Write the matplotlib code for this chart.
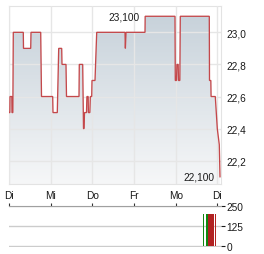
import matplotlib
matplotlib.use("Agg")
import matplotlib.pyplot as plt
import numpy as np
from matplotlib.ticker import FuncFormatter
from matplotlib.colors import LinearSegmentedColormap

plt.rcParams['font.family'] = ['Liberation Sans', 'DejaVu Sans']

# ---- data (x in trading days since first "Di") ----
day_labels = ["Di", "Mi", "Do", "Fr", "Mo", "Di"]
price_t = [0.000, 0.020, 0.024, 0.068, 0.072, 0.092, 0.103, 0.343, 0.348, 0.521,
           0.528, 0.761, 0.780, 1.049, 1.056, 1.159, 1.193, 1.265, 1.272, 1.368,
           1.380, 1.680, 1.687, 1.769, 1.788, 1.800, 1.812, 1.860, 1.870, 1.900,
           1.905, 1.940, 1.952, 1.985, 1.992, 2.064, 2.105, 2.784, 2.793, 2.808,
           3.264, 3.268, 3.984, 3.991, 4.020, 4.030, 4.060, 4.068, 4.100, 4.111,
           4.807, 4.812, 4.844, 4.850, 4.951, 4.999, 5.047, 5.064]
price_v = [22.5, 22.5, 22.6, 22.6, 22.5, 22.5, 23.0, 23.0, 22.9, 22.9,
           23.0, 23.0, 22.6, 22.6, 22.5, 22.5, 22.9, 22.9, 22.8, 22.8,
           22.6, 22.6, 22.8, 22.8, 22.4, 22.4, 22.5, 22.5, 22.6, 22.6,
           22.5, 22.5, 22.6, 22.6, 22.7, 22.7, 23.0, 23.0, 22.9, 23.0,
           23.0, 23.1, 23.1, 22.7, 22.7, 22.8, 22.8, 22.7, 22.7, 23.1,
           23.1, 22.7, 22.7, 22.6, 22.6, 22.4, 22.3, 22.1]
price_ticks = [22.2, 22.4, 22.6, 22.8, 23.0]

vol_t = [4.673, 4.755, 4.850, 4.950]
vol_v = [200, 200, 200, 200]
vol_up = [True, True, False, False]
vol_ticks = [0, 125, 250]

# ---- figure ----
W, H = 264, 255
fig = plt.figure(figsize=(W / 100, H / 100), dpi=100)
fs = 7.3
grid_c = "#e6e6e6"
txt_c = "#1a1a1a"
xmax = 5.088

ax = fig.add_axes([9 / W, 1 - 185 / H, 212 / W, 178 / H])
ax.set_xlim(0, xmax)
ax.set_ylim(22.055, 23.164)

t = np.array(price_t)
v = np.array(price_v)

# gradient fill under the line
cmap = LinearSegmentedColormap.from_list("g", ["#f6f7f8", "#c5d0d9"])
grad = np.linspace(0, 1, 256).reshape(-1, 1)
img = ax.imshow(grad, extent=[0, xmax, 22.055, 23.164], origin="lower",
                aspect="auto", cmap=cmap, zorder=1)
poly = ax.fill_between(t, v, 22.055, color="none", lw=0)
img.set_clip_path(poly.get_paths()[0], transform=ax.transData)

ax.set_xticks(range(len(day_labels)))
ax.set_xticklabels(day_labels)
ax.set_yticks(price_ticks)
ax.yaxis.set_major_formatter(FuncFormatter(lambda y, p: f"{y:.1f}".replace(".", ",")))
ax.yaxis.tick_right()
ax.tick_params(axis="both", length=0, labelsize=fs, colors=txt_c)
ax.tick_params(axis="y", pad=4)
ax.tick_params(axis="x", pad=4)
ax.grid(True, color=grid_c, lw=1.0, zorder=2)
ax.set_axisbelow(False)
for s in ax.spines.values():
    s.set_color("#e3e3e3")
    s.set_linewidth(0.8)

ax.plot(t, v, color="#c4484b", lw=0.95, zorder=3, solid_joinstyle="miter")

imax = int(np.argmax(v))
imin = int(np.argmin(v))
fmt3 = lambda y: f"{y:.3f}".replace(".", ",")
ax.annotate(fmt3(v[imax]), (t[imax], v[imax]), xytext=(-4, 0),
            textcoords="offset points", ha="right", va="center",
            fontsize=fs, color=txt_c, zorder=4)
ax.annotate(fmt3(v[imin]), (t[imin], v[imin]), xytext=(-4, 0),
            textcoords="offset points", ha="right", va="center",
            fontsize=fs, color=txt_c, zorder=4)

# ---- volume panel ----
vx = fig.add_axes([9 / W, 1 - 248 / H, 212 / W, 41 / H])
vx.set_xlim(0, xmax)
vx.set_ylim(-6, 250)
widths = [0.02, 0.05, 0.15, 0.02]
for xi, vi, up, w in zip(vol_t, vol_v, vol_up, widths):
    vx.bar(xi, vi, width=w, color="#118811" if up else "#b22222", lw=0, zorder=3)
vx.set_yticks(vol_ticks)
vx.yaxis.tick_right()
vx.tick_params(axis="y", length=3, width=0.8, pad=1, labelsize=fs, colors=txt_c)
vx.set_xticks(range(len(day_labels)))
vx.xaxis.tick_top()
vx.tick_params(axis="x", length=2.5, width=0.8, labeltop=False, labelbottom=False,
               colors="#333333")
vx.grid(True, axis="y", color="#cccccc", lw=1.0, zorder=1)
for name, s in vx.spines.items():
    s.set_visible(name == "top")
vx.spines["top"].set_color("#a0a0a0")
vx.spines["top"].set_linewidth(0.8)

fig.savefig("out.png", dpi=100)
